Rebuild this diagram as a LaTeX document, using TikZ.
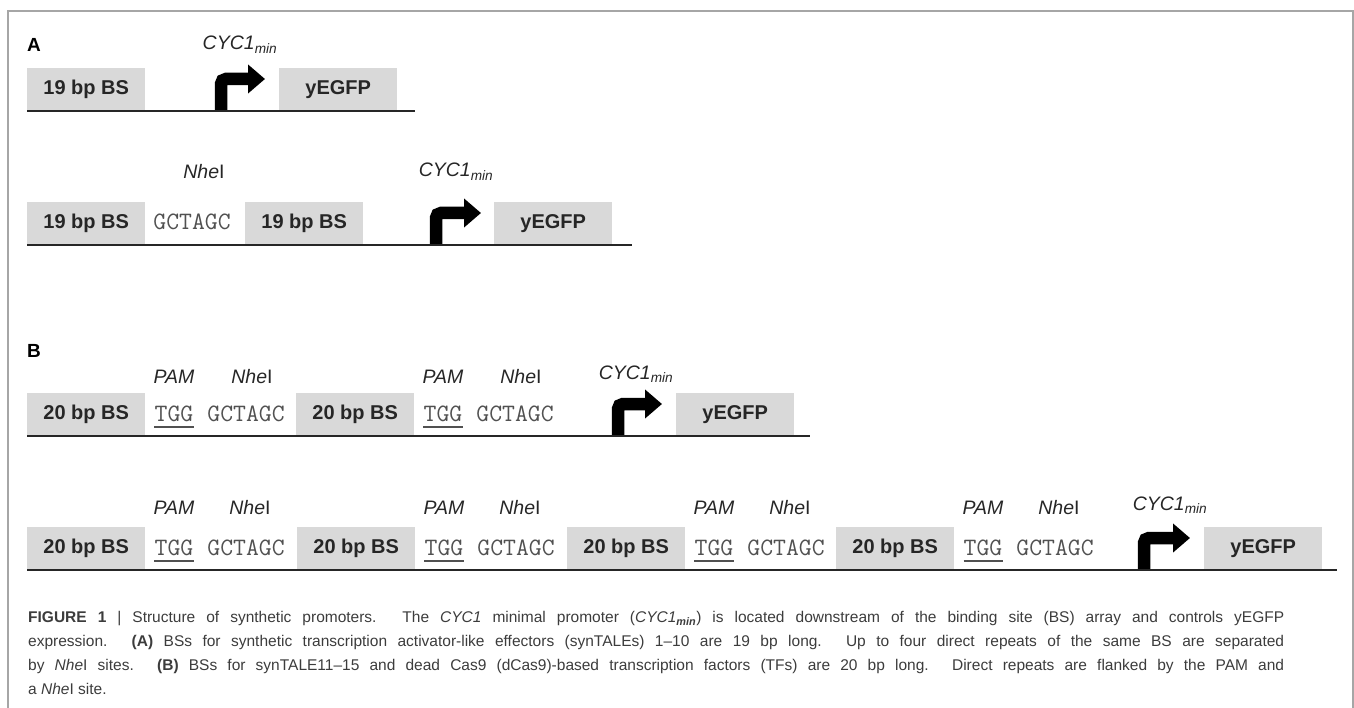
\documentclass[tikz,border=0pt]{standalone}
\usepackage{fontspec}
\setmainfont{Liberation Sans}
\usepackage{tikz}
\usetikzlibrary{arrows.meta}

\definecolor{bsgray}{HTML}{D9D9D9}
\definecolor{ink}{HTML}{262626}
\definecolor{framegray}{HTML}{A6A6A6}

\begin{document}
\begin{tikzpicture}[x=1pt,y=-1pt,
        bsbox/.style={anchor=south west, fill=bsgray, minimum width=118pt, minimum height=43pt,
                      inner sep=0pt, text=ink, font=\fontsize{20}{24}\selectfont\bfseries},
        seq/.style={anchor=base, inner sep=0pt, text=ink!80, font=\fontsize{25}{28}\ttfamily},
        lbl/.style={anchor=base, inner sep=0pt, text=ink, font=\fontsize{19.5}{22}\selectfont\itshape},
        panel/.style={anchor=base west, inner sep=0pt, text=black, font=\fontsize{19}{22}\selectfont\bfseries},
        dna/.style={line width=2pt, ink},
        pamline/.style={line width=1.4pt, ink!80},
        promoter/.style={line width=12.5pt, black, rounded corners=5pt, -{Triangle[length=17pt,width=28pt]}},
        caption/.style={anchor=north west, inner sep=0pt, text width=1256pt, align=justify, text=ink!90,
                        font=\fontsize{15.5}{24}\selectfont,
                        execute at begin node={\tolerance=10000\hyphenpenalty=10000}}]
  \useasboundingbox (0,0) rectangle (1354,708);
  % frame
  \draw[framegray, line width=1.5pt] (8,708) -- (8,11) -- (1353,11) -- (1353,708);

  % A: one binding site
  \node[panel] (pa) at (27,52) {A};
  \node[lbl] (a1cyc) at (240,50) {CYC1\textsubscript{min}};
  \node[bsbox] (a1bs) at (27,111) {19 bp BS};
  \node[bsbox] (a1gfp) at (279,111) {yEGFP};
  \coordinate (a1p) at (221,111);
  \coordinate (a1q) at (265,79);
  \draw[promoter] (a1p) |- (a1q);
  \coordinate (a1l) at (27,111);
  \coordinate (a1r) at (415,111);
  \draw[dna] (a1l) -- (a1r);

  % A: two binding sites
  \node[lbl] (a2nhe) at (204,179) {Nhe\textup{I}};
  \node[lbl] (a2cyc) at (456,177) {CYC1\textsubscript{min}};
  \node[bsbox] (a2bs1) at (27,245) {19 bp BS};
  \node[seq] (a2gc) at (192,230) {GCTAGC};
  \node[bsbox] (a2bs2) at (245,245) {19 bp BS};
  \node[bsbox] (a2gfp) at (494,245) {yEGFP};
  \coordinate (a2p) at (436,245);
  \coordinate (a2q) at (481,213);
  \draw[promoter] (a2p) |- (a2q);
  \coordinate (a2l) at (27,245);
  \coordinate (a2r) at (632,245);
  \draw[dna] (a2l) -- (a2r);

  % B: two binding sites
  \node[panel] (pb) at (27,357) {B};
  \node[lbl] (b1pam1) at (174,383) {PAM};
  \node[lbl] (b1nhe1) at (252,383) {Nhe\textup{I}};
  \node[lbl] (b1pam2) at (443,383) {PAM};
  \node[lbl] (b1nhe2) at (521,383) {Nhe\textup{I}};
  \node[lbl] (b1cyc) at (636,379) {CYC1\textsubscript{min}};
  \node[bsbox] (b1bs1) at (27,436) {20 bp BS};
  \node[seq] (b1tgg1) at (174,421) {TGG};
  \node[seq] (b1gc1) at (246,421) {GCTAGC};
  \node[bsbox] (b1bs2) at (296,436) {20 bp BS};
  \node[seq] (b1tgg2) at (443,421) {TGG};
  \node[seq] (b1gc2) at (515,421) {GCTAGC};
  \node[bsbox] (b1gfp) at (676,436) {yEGFP};
  \draw[pamline] ([yshift=-6pt]b1tgg1.base west) -- ([yshift=-6pt]b1tgg1.base east);
  \draw[pamline] ([yshift=-6pt]b1tgg2.base west) -- ([yshift=-6pt]b1tgg2.base east);
  \coordinate (b1p) at (618,436);
  \coordinate (b1q) at (662,404);
  \draw[promoter] (b1p) |- (b1q);
  \coordinate (b1l) at (27,436);
  \coordinate (b1r) at (810,436);
  \draw[dna] (b1l) -- (b1r);

  % B: four binding sites
  \node[lbl] (b2pam1) at (174,514) {PAM};
  \node[lbl] (b2nhe1) at (250,514) {Nhe\textup{I}};
  \node[lbl] (b2pam2) at (444,514) {PAM};
  \node[lbl] (b2nhe2) at (520,514) {Nhe\textup{I}};
  \node[lbl] (b2pam3) at (714,514) {PAM};
  \node[lbl] (b2nhe3) at (790,514) {Nhe\textup{I}};
  \node[lbl] (b2pam4) at (983,514) {PAM};
  \node[lbl] (b2nhe4) at (1059,514) {Nhe\textup{I}};
  \node[lbl] (b2cyc) at (1170,510) {CYC1\textsubscript{min}};
  \node[bsbox] (b2bs1) at (27,570) {20 bp BS};
  \node[seq] (b2tgg1) at (174,555) {TGG};
  \node[seq] (b2gc1) at (246,555) {GCTAGC};
  \node[bsbox] (b2bs2) at (297,570) {20 bp BS};
  \node[seq] (b2tgg2) at (444,555) {TGG};
  \node[seq] (b2gc2) at (516,555) {GCTAGC};
  \node[bsbox] (b2bs3) at (567,570) {20 bp BS};
  \node[seq] (b2tgg3) at (714,555) {TGG};
  \node[seq] (b2gc3) at (786,555) {GCTAGC};
  \node[bsbox] (b2bs4) at (836,570) {20 bp BS};
  \node[seq] (b2tgg4) at (983,555) {TGG};
  \node[seq] (b2gc4) at (1055,555) {GCTAGC};
  \node[bsbox] (b2gfp) at (1204,570) {yEGFP};
  \draw[pamline] ([yshift=-6pt]b2tgg1.base west) -- ([yshift=-6pt]b2tgg1.base east);
  \draw[pamline] ([yshift=-6pt]b2tgg2.base west) -- ([yshift=-6pt]b2tgg2.base east);
  \draw[pamline] ([yshift=-6pt]b2tgg3.base west) -- ([yshift=-6pt]b2tgg3.base east);
  \draw[pamline] ([yshift=-6pt]b2tgg4.base west) -- ([yshift=-6pt]b2tgg4.base east);
  \coordinate (b2p) at (1144,570);
  \coordinate (b2q) at (1190,538);
  \draw[promoter] (b2p) |- (b2q);
  \coordinate (b2l) at (27,570);
  \coordinate (b2r) at (1337,570);
  \draw[dna] (b2l) -- (b2r);

  % caption
  \node[caption] (cap) at (28,611) {\textbf{FIGURE 1} | Structure of synthetic promoters. The \textit{CYC1} minimal promoter (\textit{CYC1}\textsubscript{\textbf{\textit{min}}}) is located downstream of the binding site (BS) array and controls yEGFP\linebreak
    expression. \textbf{(A)} BSs for synthetic transcription activator-like effectors (synTALEs) 1--10 are 19 bp long. Up to four direct repeats of the same BS are separated\linebreak
    by \textit{Nhe}I sites. \textbf{(B)} BSs for synTALE11--15 and dead Cas9 (dCas9)-based transcription factors (TFs) are 20 bp long. Direct repeats are flanked by the PAM and\linebreak
    a \textit{Nhe}I site.};
\end{tikzpicture}
\end{document}
